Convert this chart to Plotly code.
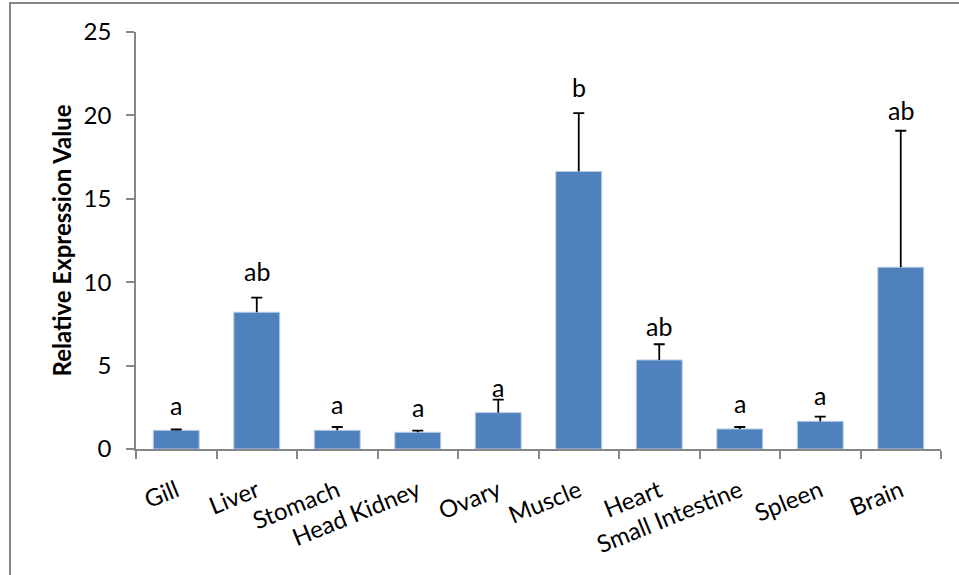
import plotly.graph_objects as go

# Tissue distribution of relative expression (mean ± SE) with significance letters
tissues = ["Gill", "Liver", "Stomach", "Head Kidney", "Ovary", "Muscle",
           "Heart", "Small Intestine", "Spleen", "Brain"]
expression = [1.12, 8.2, 1.12, 1.0, 2.18, 16.64, 5.34, 1.2, 1.66, 10.9]
error_up = [0.05, 0.88, 0.2, 0.1, 0.78, 3.5, 0.94, 0.12, 0.28, 8.18]
letters = ["a", "ab", "a", "a", "a", "b", "ab", "a", "a", "ab"]
letter_y = [2.64, 10.7, 2.68, 2.54, 3.72, 21.73, 7.4, 2.74, 3.24, 20.34]
y_ticks = [0, 5, 10, 15, 20, 25]

FONT = "Lato"
AXIS_GREY = "#868686"
n = len(tissues)

fig = go.Figure()
# bars with the vertical whisker (no caps here)
fig.add_trace(go.Bar(
    x=tissues,
    y=expression,
    marker=dict(color="#4F81BD", line=dict(color="#B9CDE5", width=1)),
    error_y=dict(type="data", symmetric=False, array=error_up,
                 arrayminus=[0] * n, color="black", thickness=1.8, width=0),
    width=0.57,
    hoverinfo="skip",
))
# cap at the top of each whisker
fig.add_trace(go.Scatter(
    x=tissues,
    y=[v + e for v, e in zip(expression, error_up)],
    mode="markers",
    marker=dict(size=1, opacity=0),
    error_y=dict(type="data", array=[0] * n, color="black",
                 thickness=1.8, width=5.5),
    hoverinfo="skip",
))

for t, lab, ly in zip(tissues, letters, letter_y):
    fig.add_annotation(x=t, y=ly, text=lab, showarrow=False,
                       font=dict(family=FONT, size=25, color="black"),
                       xanchor="center", yanchor="middle")

# y-axis title
fig.add_annotation(xref="paper", yref="paper", x=-0.092, y=0.50,
                   text="<b>Relative Expression Value</b>", textangle=-90,
                   showarrow=False, xanchor="center", yanchor="middle",
                   font=dict(family=FONT, size=24, color="black"))

# chart frame
fig.add_shape(type="rect", xref="paper", yref="paper",
              x0=-0.1565, x1=1.2, y0=-0.6, y1=1.0695,
              line=dict(color=AXIS_GREY, width=2), fillcolor="rgba(0,0,0,0)",
              layer="below")

fig.update_layout(
    width=959, height=575,
    margin=dict(l=136, r=18, t=32, b=126),
    paper_bgcolor="white", plot_bgcolor="white",
    showlegend=False,
    font=dict(family=FONT, color="black"),
    xaxis=dict(
        type="category", tickson="boundaries", ticks="outside", ticklen=8,
        tickcolor=AXIS_GREY, tickwidth=1.5,
        showline=True, linecolor=AXIS_GREY, linewidth=1.5,
        showgrid=False, tickangle=-22,
        tickfont=dict(family=FONT, size=24, color="black"),
        ticklabelstandoff=17,
        range=[-0.5, 9.5],
    ),
    yaxis=dict(
        range=[0, 25], tickvals=y_ticks, ticks="outside", ticklen=8,
        tickcolor=AXIS_GREY, tickwidth=1.5,
        showline=True, linecolor=AXIS_GREY, linewidth=1.5,
        showgrid=False, zeroline=False,
        tickfont=dict(family=FONT, size=24, color="black"),
        ticklabelstandoff=10,
    ),
)

fig.write_html("out.html")
